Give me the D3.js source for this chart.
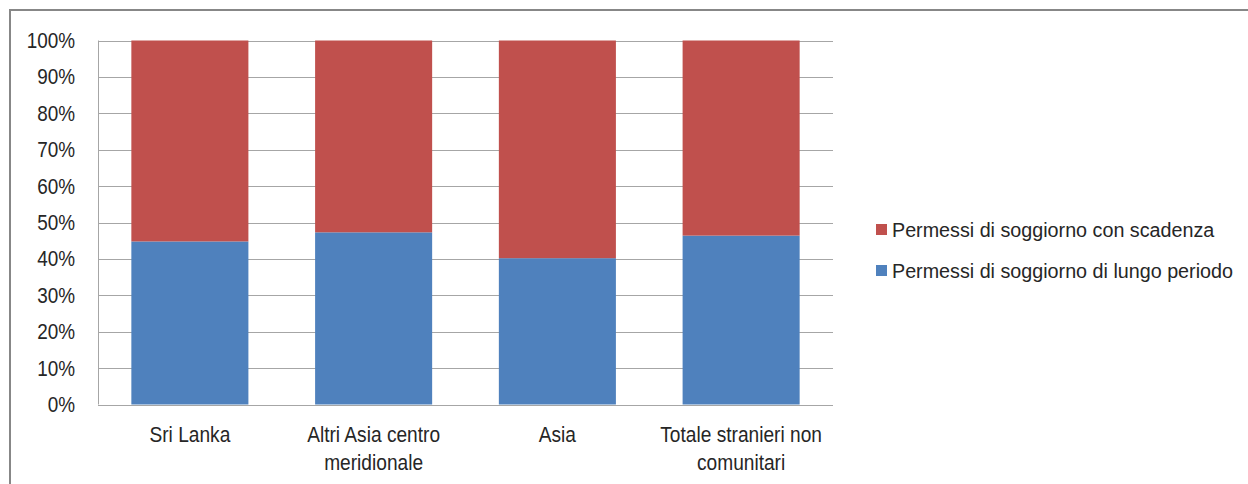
<!DOCTYPE html>
<html>
<head>
<meta charset="utf-8">
<script src="https://cdn.jsdelivr.net/npm/d3@7"></script>
<style>
  html, body { margin: 0; padding: 0; background: #fff; }
  svg { display: block; }
  text { font-family: "Liberation Sans", Arial, sans-serif; fill: #262626; }
</style>
</head>
<body>
<svg id="chart" width="1248" height="484"></svg>
<script>
// Categories (two-line labels split on "|")
const categories = ["Sri Lanka", "Altri Asia centro|meridionale", "Asia", "Totale stranieri non|comunitari"];
// Share of long-term permits (%)
const lungoPeriodo = [44.8, 47.3, 40.2, 46.4];
// Share of permits with expiry (%)
const conScadenza = lungoPeriodo.map(v => 100 - v);
const seriesNames = ["Permessi di soggiorno con scadenza", "Permessi di soggiorno di lungo periodo"];
const yTicks = [0, 10, 20, 30, 40, 50, 60, 70, 80, 90, 100];

const colors = { scad: "#C0504D", lungo: "#4F81BD" };

const svg = d3.select("#chart");

// outer chart frame (top and left edges visible)
svg.append("rect")
  .attr("x", 10).attr("y", 10).attr("width", 1250).attr("height", 490)
  .attr("fill", "none").attr("stroke", "#878787").attr("stroke-width", 2);

const plot = { left: 98, right: 833, top: 40.5, bottom: 404.5 };

const x = d3.scaleBand().domain(categories).range([plot.left, plot.right])
  .paddingInner(0.363).paddingOuter(0.1815);
const y = d3.scaleLinear().domain([0, 100]).range([plot.bottom, plot.top]);

// narrow text: horizontally condensed glyphs
function narrowText(sel, size, sx) {
  sel.style("font-size", size + "px")
    .attr("transform", function () {
      const t = d3.select(this);
      const px = +t.attr("x"), py = +t.attr("y");
      return `translate(${px},${py}) scale(${sx},1) translate(${-px},${-py})`;
    });
}

// gridlines
svg.append("g").selectAll("line").data(yTicks).join("line")
  .attr("x1", plot.left).attr("x2", plot.right)
  .attr("y1", d => Math.round(y(d)) + 0.5).attr("y2", d => Math.round(y(d)) + 0.5)
  .attr("stroke", "#A6A6A6").attr("stroke-width", 1);

// stacked bars
const rows = categories.map((c, i) => ({ cat: c, lungo: lungoPeriodo[i], scad: conScadenza[i] }));
const stack = d3.stack().keys(["lungo", "scad"])(rows);
svg.append("g").selectAll("g").data(stack).join("g")
  .attr("fill", d => colors[d.key])
  .selectAll("rect").data(d => d).join("rect")
  .attr("x", d => x(d.data.cat))
  .attr("width", x.bandwidth())
  .attr("y", d => y(d[1]))
  .attr("height", d => y(d[0]) - y(d[1]));

// y axis line
svg.append("line")
  .attr("x1", plot.left + 0.5).attr("x2", plot.left + 0.5)
  .attr("y1", plot.top).attr("y2", plot.bottom)
  .attr("stroke", "#A6A6A6");

// y tick labels
const yLabels = svg.append("g").selectAll("text").data(yTicks).join("text")
  .attr("x", 75)
  .attr("y", d => y(d) + 7.5)
  .attr("text-anchor", "end")
  .text(d => d + "%");
narrowText(yLabels, 22, 0.86);

// x axis baseline
svg.append("line")
  .attr("x1", plot.left).attr("x2", plot.right)
  .attr("y1", Math.round(plot.bottom) + 0.5).attr("y2", Math.round(plot.bottom) + 0.5)
  .attr("stroke", "#A6A6A6");

// category labels
const xl = svg.append("g").selectAll("text").data(categories).join("text")
  .attr("x", d => x(d) + x.bandwidth() / 2)
  .attr("y", 442)
  .attr("text-anchor", "middle");
xl.selectAll("tspan").data(d => d.split("|")).join("tspan")
  .attr("x", function () { return d3.select(this.parentNode).attr("x"); })
  .attr("dy", (d, i) => i === 0 ? 0 : 28)
  .text(d => d);
narrowText(xl, 22, 0.87);

// legend
const legend = svg.append("g");
const legendItems = [
  { name: seriesNames[0], color: colors.scad, y: 230 },
  { name: seriesNames[1], color: colors.lungo, y: 271 }
];
legend.selectAll("rect").data(legendItems).join("rect")
  .attr("x", 876).attr("y", d => d.y - 6).attr("width", 11).attr("height", 11)
  .attr("fill", d => d.color);
const lt = legend.selectAll("text").data(legendItems).join("text")
  .attr("x", 892).attr("y", d => d.y + 7.5)
  .text(d => d.name);
narrowText(lt, 21, 0.94);
</script>
</body>
</html>
